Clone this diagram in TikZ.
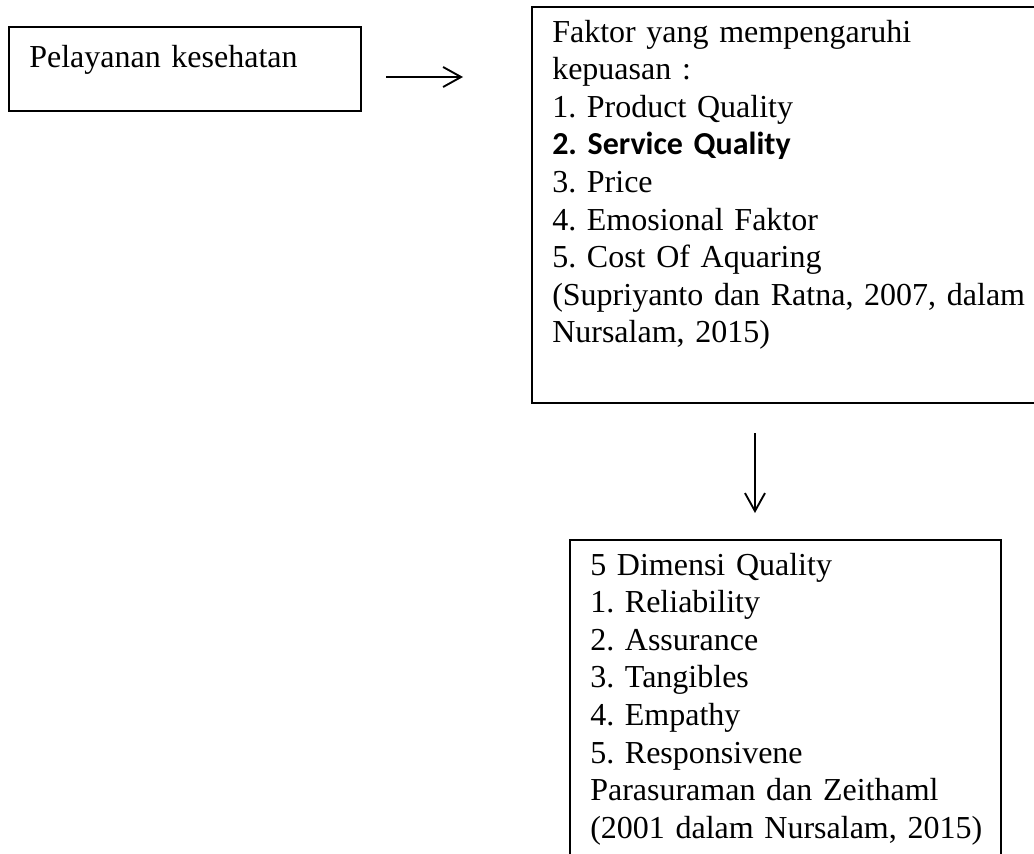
\documentclass[tikz,border=0pt]{standalone}
\usepackage{fontspec}
\setmainfont{Liberation Serif}
\newfontfamily\calibri{Carlito}
\usetikzlibrary{arrows.meta,calc}

\begin{document}
\begin{tikzpicture}[x=0.75pt, y=-0.75pt,
  kotak/.style={draw, line width=0.9pt, rectangle, outer sep=0pt, inner sep=0pt, anchor=north west},
  isi/.style={anchor=base west, inner sep=0pt, text width=380pt, align=left,
    font=\fontsize{24pt}{28.2pt}\selectfont\frenchspacing},
  panah/.style={line width=1.4pt, -{Straight Barb[length=13.5pt, width=15pt, line width=1.4pt]}}]
\useasboundingbox (0,0) rectangle (1034,853);
% kotak
\node[kotak, minimum width=264pt, minimum height=63pt] (layanan) at (9,27) {};
\node[kotak, minimum width=388.5pt, minimum height=297pt] (faktor) at (532,7) {};
\node[kotak, minimum width=323.25pt, minimum height=247.5pt] (dimensi) at (570,540) {};
% isi kotak
\node[isi] (tlayanan) at ($(layanan.north west)+(15pt,-30pt)$) {Pelayanan kesehatan};
\node[isi] (tfaktor) at ($(faktor.north west)+(15pt,-26.25pt)$) {Faktor yang mempengaruhi\\
  kepuasan :\\
  1. Product Quality\\
  {\calibri\bfseries 2. Service Quality}\\
  3. Price\\
  4. Emosional Faktor\\
  5. Cost Of Aquaring\\
  (Supriyanto dan Ratna, 2007, dalam\\
  Nursalam, 2015)};
\node[isi] (tdimensi) at ($(dimensi.north west)+(15pt,-26.25pt)$) {5 Dimensi Quality\\
  1. Reliability\\
  2. Assurance\\
  3. Tangibles\\
  4. Empathy\\
  5. Responsivene\\
  Parasuraman dan Zeithaml\\
  (2001 dalam Nursalam, 2015)};
% panah
\draw[panah] ($(layanan.east)+(18.75pt,-6pt)$) -- ($(layanan.east -| faktor.west)+(-51.75pt,-6pt)$);
\draw[panah] ($(dimensi.north |- faktor.south)+(-22.9pt,-22.5pt)$) -- ($(dimensi.north)+(-22.9pt,20.25pt)$);
\end{tikzpicture}
\end{document}
